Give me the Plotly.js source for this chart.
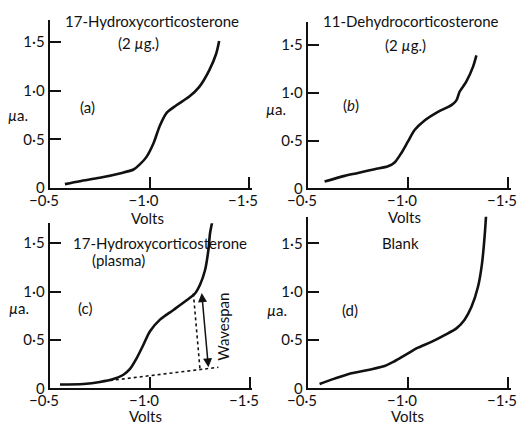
<!DOCTYPE html>
<html>
<head>
<meta charset="utf-8">
<script src="https://cdn.plot.ly/plotly-3.0.1.min.js"></script>
<style>html,body{margin:0;padding:0;background:#fff;}#chart{width:517px;height:427px;}</style>
</head>
<body>
<div id="chart"></div>
<script>
// ---- data (volts vs microamps) ----
const aVolts   = [-0.575,-0.65,-0.75,-0.85,-0.92,-0.95,-0.985,-1.02,-1.05,-1.085,-1.135,-1.20,-1.25,-1.30,-1.335,-1.35];
const aCurrent = [0.04,0.07,0.105,0.15,0.19,0.24,0.32,0.46,0.63,0.77,0.85,0.94,1.04,1.21,1.38,1.51];

const bVolts   = [-0.583,-0.683,-0.75,-0.833,-0.90,-0.933,-0.967,-1.0,-1.033,-1.083,-1.15,-1.217,-1.242,-1.258,-1.29,-1.325,-1.342];
const bCurrent = [0.07,0.13,0.16,0.20,0.23,0.27,0.37,0.49,0.61,0.71,0.80,0.87,0.92,1.01,1.11,1.27,1.39];

const cVolts   = [-0.55,-0.667,-0.75,-0.817,-0.867,-0.90,-0.933,-0.967,-1.0,-1.05,-1.117,-1.183,-1.225,-1.25,-1.275,-1.292,-1.30,-1.31];
const cCurrent = [0.04,0.045,0.065,0.095,0.14,0.20,0.31,0.45,0.59,0.71,0.81,0.91,0.98,1.07,1.22,1.43,1.60,1.71];

const dVolts   = [-0.558,-0.633,-0.717,-0.80,-0.883,-0.933,-0.983,-1.05,-1.117,-1.183,-1.242,-1.283,-1.317,-1.35,-1.37,-1.383,-1.392];
const dCurrent = [0.045,0.10,0.155,0.19,0.23,0.28,0.34,0.42,0.48,0.55,0.62,0.71,0.84,1.05,1.29,1.57,1.84];

// construction lines in panel (c)
const baseVolts   = [-0.74,-1.342];
const baseCurrent = [0.065,0.217];
const dropVolts   = [-1.217,-1.25];
const dropCurrent = [0.98,0.196];
const spanVolts   = [-1.258,-1.292];
const spanCurrent = [1.0,0.217];

// ticks
const xTickVals = [-0.5,-1.0,-1.5];
const xTickText = ['\u22120\u00b75','\u22121\u00b70','\u22121\u00b75'];
const yTickVals = [0,0.5,1.0,1.5];
const yTickText = ['0','0\u00b75','1\u00b70','1\u00b75'];

const titles = {
  a:['17-Hydroxycorticosterone','(2 <i>\u00b5</i>g.)'],
  b:['11-Dehydrocorticosterone','(2 <i>\u00b5</i>g.)'],
  c:['17-Hydroxycorticosterone','(plasma)'],
  d:['Blank']
};

// ---- drawing ----
const FONT = 'Lato, "Open Sans", sans-serif';
const INK = '#111';
const curveLine = {color:INK,width:2.6,shape:'spline',smoothing:0.8};

const traces = [
  {x:aVolts,y:aCurrent,xaxis:'x',yaxis:'y',mode:'lines',line:curveLine},
  {x:bVolts,y:bCurrent,xaxis:'x2',yaxis:'y2',mode:'lines',line:curveLine},
  {x:cVolts,y:cCurrent,xaxis:'x3',yaxis:'y3',mode:'lines',line:curveLine},
  {x:dVolts,y:dCurrent,xaxis:'x4',yaxis:'y4',mode:'lines',line:curveLine},
  {x:baseVolts,y:baseCurrent,xaxis:'x3',yaxis:'y3',mode:'lines',line:{color:INK,width:1.6,dash:'3px,3px'}},
  {x:dropVolts,y:dropCurrent,xaxis:'x3',yaxis:'y3',mode:'lines',line:{color:INK,width:1.6,dash:'3px,3px'}}
];

function xa(domain, range, anchor){
  return {domain:domain, range:range, anchor:anchor, showline:true, linewidth:1.6, linecolor:INK,
    ticks:'inside', ticklen:11, tickwidth:2, tickcolor:INK, zeroline:false, showgrid:false,
    tickmode:'array', tickvals:xTickVals, ticktext:xTickText, fixedrange:true,
    ticklabeloverflow:'allow', ticklabelshift:6, ticklabelstandoff:-2,
    tickfont:{family:FONT,size:15,color:INK}};
}
function ya(domain, range, anchor){
  return {domain:domain, range:range, anchor:anchor, showline:true, linewidth:2.4, linecolor:INK,
    ticks:'inside', ticklen:11, tickwidth:2, tickcolor:INK, zeroline:false, showgrid:false,
    tickmode:'array', tickvals:yTickVals, ticktext:yTickText, fixedrange:true,
    ticklabeloverflow:'allow',
    tickfont:{family:FONT,size:15,color:INK}};
}

const tf = {family:FONT,size:15,color:INK};
function txt(x,y,t,extra){ return Object.assign({xref:'paper',yref:'paper',x:x,y:y,text:t,showarrow:false,font:tf,xanchor:'center',yanchor:'middle'},extra||{}); }

const annotations = [
  txt(152/517,1-21/427,titles.a[0]), txt(138/517,1-43/427,titles.a[1]),
  txt(411/517,1-21/427,titles.b[0]), txt(405/517,1-45/427,titles.b[1]),
  txt(160/517,1-243/427,titles.c[0]), txt(118/517,1-260/427,titles.c[1]),
  txt(400/517,1-243/427,titles.d[0]),
  txt(147/517,1-218/427,'Volts'), txt(404/517,1-217/427,'Volts'),
  txt(145/517,0,'Volts',{yanchor:'bottom'}), txt(407/517,0,'Volts',{yanchor:'bottom'}),
  txt(18/517,1-115/427,'<i>\u00b5</i>a.'), txt(276/517,1-109/427,'<i>\u00b5</i>a.'),
  txt(19/517,1-308/427,'<i>\u00b5</i>a.'), txt(277/517,1-310/427,'<i>\u00b5</i>a.'),
  {xref:'x',yref:'y',x:-0.686,y:0.83,text:'(a)',showarrow:false,font:tf},
  {xref:'x2',yref:'y2',x:-0.715,y:0.87,text:'(<i>b</i>)',showarrow:false,font:tf},
  {xref:'x3',yref:'y3',x:-0.675,y:0.83,text:'(c)',showarrow:false,font:tf},
  {xref:'x4',yref:'y4',x:-0.71,y:0.81,text:'(d)',showarrow:false,font:tf},
  {xref:'x3',yref:'y3',x:-1.367,y:0.64,text:'Wavespan',textangle:-90,showarrow:false,font:tf},
  {xref:'x3',yref:'y3',axref:'x3',ayref:'y3',x:spanVolts[1],y:spanCurrent[1],ax:spanVolts[0],ay:spanCurrent[0],
   text:'',showarrow:true,arrowhead:2,startarrowhead:2,arrowside:'end+start',arrowsize:1.2,startarrowsize:1.2,arrowwidth:1.5,arrowcolor:INK,standoff:0,startstandoff:0}
];

const layout = {
  width:517,height:427,margin:{l:0,r:0,t:0,b:0},
  paper_bgcolor:'#fff',plot_bgcolor:'rgba(0,0,0,0)',showlegend:false,
  font:{family:FONT,color:INK},
  xaxis:  xa([50/517,252/517],[-0.5,-1.515],'y'),
  yaxis:  ya([1-188/427,1-20/427],[0,1.727],'x'),
  xaxis2: xa([308/517,511/517],[-0.5,-1.515],'y2'),
  yaxis2: ya([1-188.3/427,1-21.7/427],[0,1.743],'x2'),
  xaxis3: xa([50/517,252/517],[-0.5,-1.51],'y3'),
  yaxis3: ya([1-388.3/427,1-223.3/427],[0,1.706],'x3'),
  xaxis4: xa([308/517,511/517],[-0.5,-1.515],'y4'),
  yaxis4: ya([1-388.3/427,1-216.7/427],[0,1.775],'x4'),
  annotations:annotations
};

Plotly.newPlot('chart',traces,layout,{staticPlot:true,displayModeBar:false});
</script>
</body>
</html>
